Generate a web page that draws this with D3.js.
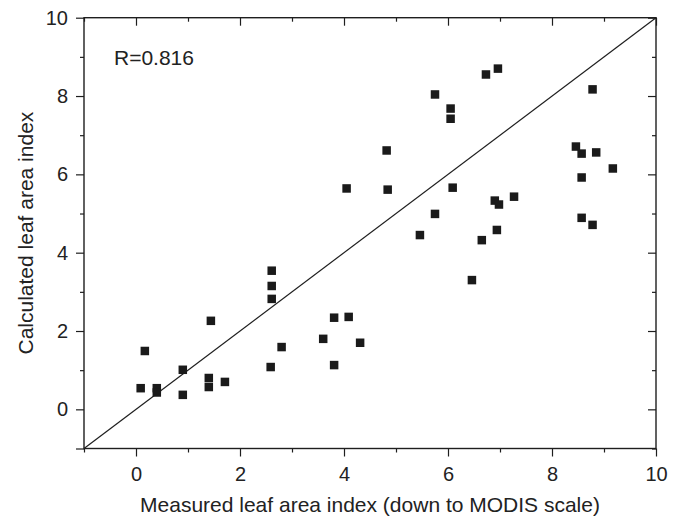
<!DOCTYPE html>
<html>
<head>
<meta charset="utf-8">
<script src="https://cdn.jsdelivr.net/npm/d3@7"></script>
<style>
  html, body { margin: 0; padding: 0; background: #fff; }
  svg { display: block; font-family: "Liberation Sans", Arial, Helvetica, sans-serif; }
</style>
</head>
<body>
<svg id="chart" width="677" height="518"></svg>
<script>
// Measured leaf area index (x) and calculated leaf area index (y)
const measured = [
  0.09, 0.17, 0.40, 0.40, 0.90, 0.90, 1.40, 1.40, 1.44, 1.71,
  2.59, 2.61, 2.61, 2.61, 2.80, 3.60, 3.81, 3.81, 4.09, 4.31,
  4.05, 4.82, 4.84, 5.46, 5.75, 5.75, 6.05, 6.05, 6.09, 6.46,
  6.65, 6.73, 6.96, 6.90, 6.98, 6.94, 7.27, 8.46, 8.57, 8.57,
  8.57, 8.78, 8.85, 8.78, 9.17
];
const calculated = [
  0.54, 1.49, 0.54, 0.43, 1.01, 0.37, 0.80, 0.57, 2.26, 0.70,
  1.08, 2.82, 3.15, 3.54, 1.59, 1.80, 1.13, 2.34, 2.36, 1.70,
  5.64, 6.61, 5.61, 4.45, 4.99, 8.04, 7.68, 7.42, 5.66, 3.30,
  4.32, 8.55, 8.70, 5.33, 5.23, 4.58, 5.43, 6.71, 6.53, 5.92,
  4.89, 8.17, 6.56, 4.71, 6.15
];
const majorTicks = [0, 2, 4, 6, 8, 10];
const minorTicks = [-1, 1, 3, 5, 7, 9];
const domain = [-1, 10];
const lineEnds = [-1, 10];
const rLabel = "R=0.816";
const xTitle = "Measured leaf area index (down to MODIS scale)";
const yTitle = "Calculated leaf area index";

(function () {
const svg = d3.select("#chart");
const mLeft = 84, mRight = 656, mTop = 17.7, mBottom = 448.5;
const x = d3.scaleLinear().domain(domain).range([mLeft, mRight]);
const y = d3.scaleLinear().domain(domain).range([mBottom, mTop]);
const ink = "#1e1e1e";

function styleAxis(g, fontSize) {
  g.select(".domain").remove();
  g.selectAll(".tick line").attr("stroke", ink).attr("stroke-width", 1.2);
  g.selectAll(".tick text").attr("fill", "#222").style("font-size", fontSize + "px")
    .style("font-family", '"Liberation Sans", Arial, sans-serif');
}

// bottom axis
svg.append("g").attr("transform", `translate(0,${mBottom})`)
  .call(d3.axisBottom(x).tickValues(majorTicks).tickSize(8).tickPadding(10).tickFormat(d3.format("d")))
  .call(g => styleAxis(g, 20));
svg.append("g").attr("transform", `translate(0,${mBottom})`)
  .call(d3.axisBottom(x).tickValues(minorTicks).tickSize(4).tickFormat(""))
  .call(g => styleAxis(g, 20));
// top axis (inward ticks)
svg.append("g").attr("transform", `translate(0,${mTop})`)
  .call(d3.axisTop(x).tickValues(majorTicks).tickSize(-8).tickFormat(""))
  .call(g => styleAxis(g, 20));
svg.append("g").attr("transform", `translate(0,${mTop})`)
  .call(d3.axisTop(x).tickValues(minorTicks).tickSize(-4).tickFormat(""))
  .call(g => styleAxis(g, 20));
// left axis
svg.append("g").attr("transform", `translate(${mLeft},0)`)
  .call(d3.axisLeft(y).tickValues(majorTicks.concat([-1])).tickSize(8).tickPadding(8)
    .tickFormat(d => d === -1 ? "" : d3.format("d")(d)))
  .call(g => styleAxis(g, 20));
svg.append("g").attr("transform", `translate(${mLeft},0)`)
  .call(d3.axisLeft(y).tickValues(minorTicks.filter(v => v !== -1)).tickSize(4).tickFormat(""))
  .call(g => styleAxis(g, 20));
// right axis (inward ticks)
svg.append("g").attr("transform", `translate(${mRight},0)`)
  .call(d3.axisRight(y).tickValues(majorTicks).tickSize(-8).tickFormat(""))
  .call(g => styleAxis(g, 20));
svg.append("g").attr("transform", `translate(${mRight},0)`)
  .call(d3.axisRight(y).tickValues(minorTicks).tickSize(-4).tickFormat(""))
  .call(g => styleAxis(g, 20));

// frame
svg.append("rect")
  .attr("x", mLeft).attr("y", mTop)
  .attr("width", mRight - mLeft).attr("height", mBottom - mTop)
  .attr("fill", "none").attr("stroke", ink).attr("stroke-width", 1.4);

// 1:1 line
svg.append("line")
  .attr("x1", x(lineEnds[0])).attr("y1", y(lineEnds[0]))
  .attr("x2", x(lineEnds[1])).attr("y2", y(lineEnds[1]))
  .attr("stroke", ink).attr("stroke-width", 1.2);

// points
const pts = measured.map((m, i) => ({ m, c: calculated[i] }));
const s = 8.5;
svg.append("g").selectAll("rect").data(pts).join("rect")
  .attr("x", d => x(d.m) - s / 2)
  .attr("y", d => y(d.c) - s / 2)
  .attr("width", s).attr("height", s)
  .attr("fill", "#1a1a1a");

// R label
svg.append("text")
  .attr("x", 114).attr("y", 65)
  .attr("fill", "#222").style("font-size", "21px")
  .text(rLabel);

// axis titles
svg.append("text")
  .attr("x", (mLeft + mRight) / 2).attr("y", 512)
  .attr("text-anchor", "middle")
  .attr("fill", "#222").style("font-size", "21px")
  .text(xTitle);
svg.append("text")
  .attr("transform", `translate(33,${(mTop + mBottom) / 2}) rotate(-90)`)
  .attr("text-anchor", "middle")
  .attr("fill", "#222").style("font-size", "21px")
  .text(yTitle);
})();
</script>
</body>
</html>
